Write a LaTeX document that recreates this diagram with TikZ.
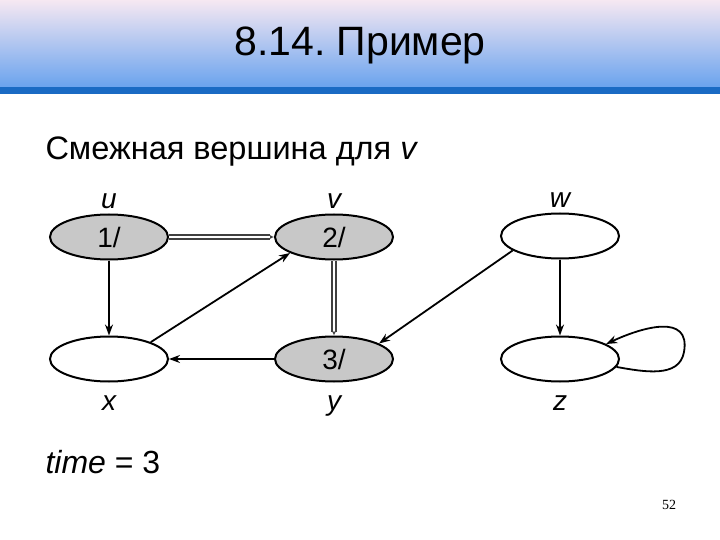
\documentclass[tikz,border=0pt]{standalone}
\usepackage{fontspec}
\setmainfont{Liberation Sans}
\newfontfamily\slidenum{Liberation Serif}
\usetikzlibrary{arrows.meta,positioning,shapes.geometric}

\definecolor{bannertop}{HTML}{F6E8F2}
\definecolor{bannermid}{HTML}{BCD3F2}
\definecolor{bannerbot}{HTML}{6AA3EE}
\definecolor{bannerline}{HTML}{1A6BC4}
\definecolor{greynode}{HTML}{C8C8C8}

\begin{document}
\begin{tikzpicture}[
x=1pt, y=-1pt,
vertex/.style={draw, ellipse, line width=2pt, minimum width=118pt, minimum height=45pt, inner sep=0pt, font=\fontsize{28}{30}\selectfont},
visited/.style={vertex, fill=greynode},
vlabel/.style={font=\fontsize{28}{30}\selectfont\itshape, label distance=1pt},
blabel/.style={vlabel, label distance=10pt},
arrow/.style={-{Stealth[length=11pt, width=8pt]}, line width=1.8pt},
tree/.style={-{Latex[length=4pt, width=4pt]}, draw=gray!50!black, double=white, double distance=2.2pt, line width=2pt}
]
\useasboundingbox (0,0) rectangle (720,540);
\fill[white] (0,0) rectangle (720,540);

% banner
\shade[top color=bannertop, middle color=bannermid, bottom color=bannerbot] (0,0) rectangle (720,87);
\fill[bannerline] (0,87) rectangle (720,94);
\node[font=\fontsize{41}{44}\selectfont] (title) at (360,45) {8.14.\ Пример};

\node[anchor=west, font=\fontsize{32.5}{36}\selectfont] (head) at (42,152) {Смежная вершина для \textit{v}};

% vertices
\node[visited, label={[vlabel]above:u}] (u) at (109,237) {1/};
\node[visited, label={[vlabel]above:v}] (v) at (334,237) {2/};
\node[vertex, label={[vlabel]above:w}] (w) at (560,236) {};
\node[vertex, label={[blabel]below:x}] (x) at (109,359) {};
\node[visited, label={[blabel]below:y}] (y) at (334,359) {3/};
\node[vertex, label={[blabel]below:z}] (z) at (560,359) {};
\coordinate (zloop) at (684,352);

% edges
\draw[tree] (u) -- (v);
\draw[tree] (v) -- (y);
\draw[arrow] (u) -- (x);
\draw[arrow] (x.22) -- (v.200);
\draw[arrow] (y) -- (x);
\draw[arrow] (w.197) -- (y.19);
\draw[arrow] (w) -- (z);
\draw[arrow] (z.-8) to[out=-10, in=-100] (zloop) to[out=80, in=25, looseness=1.3] (z.18);

\node[anchor=west, font=\fontsize{32}{36}\selectfont] (time) at (42,462) {\textit{time} = 3};
\node[font=\slidenum\fontsize{14}{16}\selectfont] (page) at (669,505) {52};
\end{tikzpicture}
\end{document}
